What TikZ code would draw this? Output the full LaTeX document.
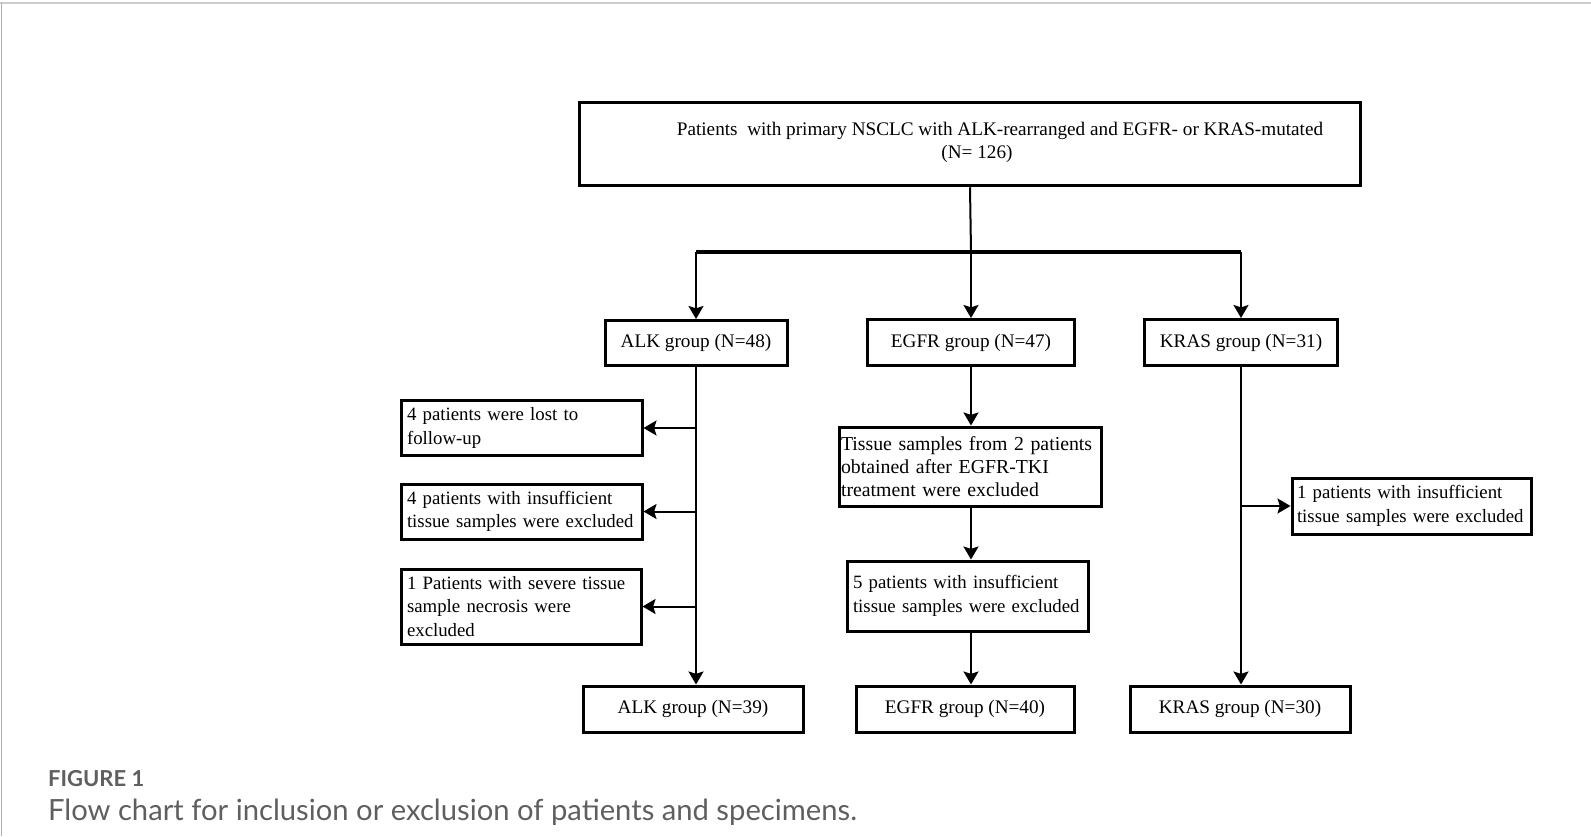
\documentclass[tikz,border=0pt]{standalone}
\usepackage{fontspec}
\setmainfont{Liberation Serif}
\newfontfamily\capfont{Lato}
\usepackage{tikz}
\usetikzlibrary{arrows.meta,positioning}
\definecolor{framegray}{RGB}{200,207,204}
\definecolor{edgegray}{RGB}{175,175,175}
\definecolor{capgray}{RGB}{95,95,95}

\begin{document}
\begin{tikzpicture}[
    x=0.5pt, y=-0.5pt,
    box/.style={rectangle, draw, line width=1.5pt, inner xsep=3pt, inner ysep=2pt, align=center, font=\fontsize{9.6}{11.65}\selectfont},
    sidebox/.style={box, align=left, inner xsep=3pt, font=\fontsize{9.4}{11.65}\selectfont},
    line/.style={line width=1pt},
    arrow/.style={line, -{Stealth[length=6.5pt, width=7.5pt, inset=1.2pt]}},
    caption/.style={anchor=base west, inner sep=0pt, text=capgray}
]
    \useasboundingbox (0,0) rectangle (1591,836);
    % card frame
    \draw[framegray, line width=1pt] (0,2.5) -- (1591,2.5);
    \draw[edgegray, line width=0.5pt] (1,2.5) -- (1,836);

    % all patients
    \node[box, line width=1.75pt, minimum width=390.5pt, minimum height=41.5pt, text depth=4pt] (all) at (970,144)
        {\hspace*{30pt}Patients\ \ with primary NSCLC with ALK-rearranged and EGFR- or KRAS-mutated\\\hspace*{7pt}(N= 126)};

    % groups before exclusion
    \node[box, minimum width=91pt, minimum height=22.5pt] (alkA) at (696,343) {ALK group (N=48)};
    \node[box, minimum width=103.5pt, minimum height=23pt] (egfrA) at (971,342.5) {EGFR group (N=47)};
    \node[box, minimum width=96.5pt, minimum height=23pt] (krasA) at (1241,342.5) {KRAS group (N=31)};

    % exclusions
    \node[sidebox, text width=114.5pt, minimum height=27.5pt] (alkLost) at (521.5,428)
        {4 patients were lost to\\follow-up};
    \node[sidebox, text width=114.5pt, minimum height=27.5pt] (alkTissue) at (521.5,511.5)
        {4 patients with insufficient\\tissue samples were excluded};
    \node[sidebox, text width=114pt, minimum height=37.5pt] (alkNecro) at (521,606.5)
        {1 Patients with severe tissue\\sample necrosis were\\excluded};
    \node[sidebox, inner xsep=1pt, text width=129pt, minimum height=39.5pt, font=\fontsize{9.9}{11.65}\selectfont] (egfrTKI) at (970,466.5)
        {Tissue samples from 2 patients\\obtained after EGFR-TKI\\treatment were excluded};
    \node[sidebox, text width=114.5pt, minimum height=35pt] (egfrTissue) at (967.5,596)
        {5 patients with insufficient\\tissue samples were excluded};
    \node[sidebox, inner xsep=2.5pt, text width=114.5pt, minimum height=28pt] (krasTissue) at (1411.5,506)
        {1 patients with insufficient\\tissue samples were excluded};

    % groups after exclusion
    \node[box, minimum width=110pt, minimum height=23pt] (alkB) at (693,709) {ALK group (N=39)};
    \node[box, minimum width=109pt, minimum height=23pt] (egfrB) at (965,709) {EGFR group (N=40)};
    \node[box, minimum width=110pt, minimum height=23pt] (krasB) at (1240,709) {KRAS group (N=30)};

    % split
    \coordinate (split) at (971,251.6);
    \draw[line] (all.south) -- (split);
    \draw[line width=2pt] (alkA.north |- split) -- (krasA.north |- split);
    \draw[arrow] (alkA.north |- split) -- (alkA.north);
    \draw[arrow] (split) -- (egfrA.north);
    \draw[arrow] (krasA.north |- split) -- (krasA.north);

    % ALK
    \draw[arrow] (alkA.south) -- (alkA.south |- alkB.north);
    \draw[arrow] (alkA.south |- alkLost.east) -- (alkLost.east);
    \draw[arrow] (alkA.south |- alkTissue.east) -- (alkTissue.east);
    \draw[arrow] (alkA.south |- alkNecro.east) -- (alkNecro.east);

    % EGFR
    \draw[arrow] (egfrA.south) -- (egfrA.south |- egfrTKI.north);
    \draw[arrow] (egfrA.south |- egfrTKI.south) -- (egfrA.south |- egfrTissue.north);
    \draw[arrow] (egfrA.south |- egfrTissue.south) -- (egfrA.south |- egfrB.north);

    % KRAS
    \draw[arrow] (krasA.south) -- (krasA.south |- krasB.north);
    \draw[arrow] (krasA.south |- krasTissue.west) -- (krasTissue.west);

    % caption
    \node[caption, font=\capfont\bfseries\fontsize{11}{13}\selectfont] (figLabel) at (47.7,786) {FIGURE 1};
    \node[caption, font=\capfont\fontsize{14.6}{17}\selectfont] (figText) at (47.7,820)
        {Flow chart for inclusion or exclusion of patients and specimens.};
\end{tikzpicture}
\end{document}
